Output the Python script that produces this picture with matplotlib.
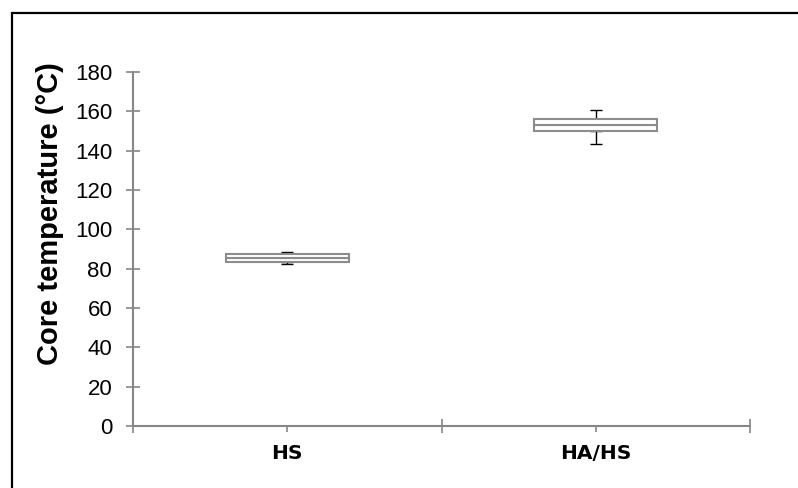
import matplotlib.pyplot as plt
from matplotlib.patches import Rectangle

groups = ["HS", "HA/HS"]
mins = [82.5, 143.2]
q1 = [83.4, 150.0]
medians = [85.3, 153.3]
q3 = [87.3, 156.2]
maxs = [88.5, 160.7]
yticks = [0, 20, 40, 60, 80, 100, 120, 140, 160, 180]

axis_grey = "#868686"
box_grey = "#8c8c8c"

fig = plt.figure(figsize=(7.98, 4.88), dpi=100)
ax = fig.add_axes([133 / 798, 1 - 426 / 488, (750 - 133) / 798, (426 - 72) / 488])

x = [0.5, 1.5]
width = 0.4

# boxes as two stacked bars (q1-median, median-q3)
lower = [m - a for m, a in zip(medians, q1)]
upper = [b - m for b, m in zip(q3, medians)]
ax.bar(x, lower, width, bottom=q1, color="white", edgecolor=box_grey, linewidth=1.5, zorder=3)
ax.bar(x, upper, width, bottom=medians, color="white", edgecolor=box_grey, linewidth=1.5, zorder=3)

# whiskers
up_err = [b - a for a, b in zip(q3, maxs)]
lo_err = [a - b for a, b in zip(q1, mins)]
ax.errorbar(x, q3, yerr=[[0, 0], up_err], fmt="none", ecolor="black", elinewidth=1,
            capsize=4.5, capthick=1, zorder=2)
ax.errorbar(x, q1, yerr=[lo_err, [0, 0]], fmt="none", ecolor="black", elinewidth=1,
            capsize=4.5, capthick=1, zorder=2)

ax.set_xlim(0, 2)
ax.set_ylim(0, 180)
ax.set_yticks(yticks)
ax.set_yticklabels([str(v) for v in yticks], fontsize=16, family="Liberation Sans")

ax.set_xticks([0, 1, 2])
ax.set_xticklabels([])
ax.set_xticks(x, minor=True)
ax.set_xticklabels(groups, minor=True, fontsize=14.5, fontweight="bold", family="DejaVu Sans")
ax.tick_params(axis="x", which="major", direction="inout", length=10, color=axis_grey, width=1.2)
ax.tick_params(axis="x", which="minor", direction="out", length=4, color=axis_grey, width=1.2, pad=9)
ax.tick_params(axis="y", direction="inout", length=10, color=axis_grey, width=1.2, pad=10)

for side in ["top", "right"]:
    ax.spines[side].set_visible(False)
for side in ["left", "bottom"]:
    ax.spines[side].set_color(axis_grey)
    ax.spines[side].set_linewidth(1.5)

ax.set_ylabel("Core temperature (°C)", fontsize=21, fontweight="bold", family="Liberation Sans")
ax.yaxis.set_label_coords(-0.112, 0.6)

# outer chart border
fig.patches.append(Rectangle((12 / 798, -0.1), 1.0, 1.1 - 13 / 488, transform=fig.transFigure,
                             fill=False, edgecolor="black", linewidth=1.6))

fig.savefig("out.png", dpi=100)
